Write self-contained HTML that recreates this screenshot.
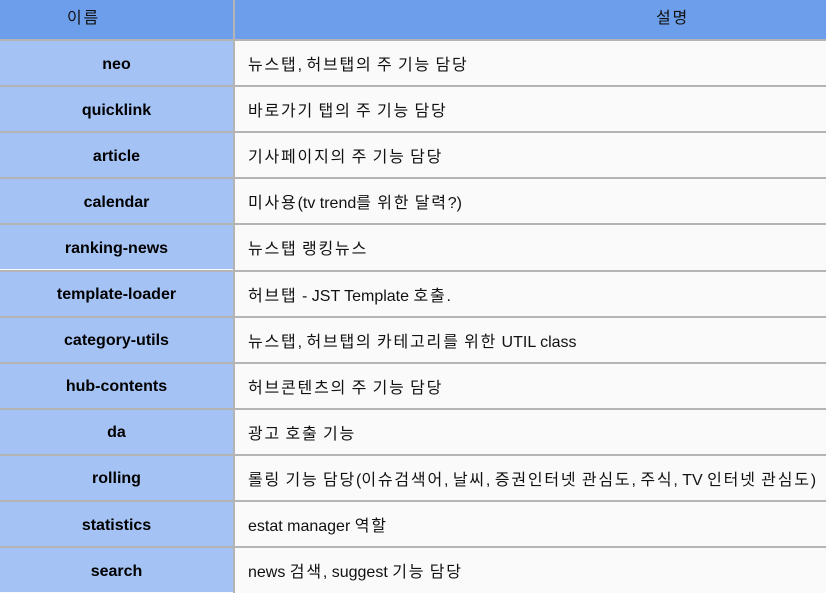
<!DOCTYPE html>
<html><head><meta charset="utf-8"><style>
body{margin:0;width:826px;height:593px;overflow:hidden;background:#fafafa;font-family:"Liberation Sans","Noto Sans CJK KR","NanumGothic",sans-serif;}
.hdr{position:absolute;top:0;height:39px;background:#6d9eeb;}
.htxt{position:absolute;top:8px;font-size:16px;line-height:22px;color:#111;}
.row{position:absolute;left:0;width:826px;}
.c1{position:absolute;left:0;width:233px;top:0;bottom:0;background:#a4c2f4;font-weight:bold;font-size:16px;text-align:center;display:flex;align-items:center;justify-content:center;color:#000;padding-top:3px;box-sizing:border-box;}
.c2{position:absolute;left:235px;right:0;top:0;bottom:0;background:#fafafa;font-size:16px;display:flex;align-items:center;padding-left:13px;color:#111;white-space:nowrap;}
.k{letter-spacing:1.8px;}
.hline{position:absolute;left:0;width:826px;height:2px;background:#b4b4b4;}
.vline{position:absolute;left:233px;top:0;width:2px;height:593px;background:#b4b4b4;}
</style></head><body>
<div class="hdr" style="left:0;width:233px"></div>
<div class="hdr" style="left:235px;width:591px;"></div>
<div class="htxt" style="left:67px"><span class="k">이름</span></div>
<div class="htxt" style="left:656px"><span class="k">설명</span></div>
<div id="rows"></div>
<div class="vline"></div>
<script>
const names=["neo","quicklink","article","calendar","ranking-news","template-loader","category-utils","hub-contents","da","rolling","statistics","search"];
const descs=["뉴스탭, 허브탭의 주 기능 담당","바로가기 탭의 주 기능 담당","기사페이지의 주 기능 담당","미사용(tv trend를 위한 달력?)","뉴스탭 랭킹뉴스","허브탭 - JST Template 호출.","뉴스탭, 허브탭의 카테고리를 위한 UTIL class","허브콘텐츠의 주 기능 담당","광고 호출 기능","롤링 기능 담당(이슈검색어, 날씨, 증권인터넷 관심도, 주식, TV 인터넷 관심도)","estat manager 역할","news 검색, suggest 기능 담당"];
const root=document.getElementById('rows');
const rh=46.1;
names.forEach((n,i)=>{
  const top=39+i*rh;
  const line=document.createElement('div');
  line.className='hline';
  line.style.top=top+'px';
  
  
  root.appendChild(line);
  const r=document.createElement('div');
  r.className='row';
  r.style.top=(top+2)+'px';
  r.style.height=(rh-2)+'px';
  
  
  const a=document.createElement('div');
  a.className='c1';a.textContent=n;
  
  
  const b=document.createElement('div');
  b.className='c2';
  const inner=document.createElement('span');
  inner.innerHTML=descs[i].replace(/[\uAC00-\uD7A3]+/g,m=>'<span class="k">'+m+'</span>');
  b.appendChild(inner);
  
  
  r.appendChild(a);r.appendChild(b);root.appendChild(r);
});
</script>
</body></html>
